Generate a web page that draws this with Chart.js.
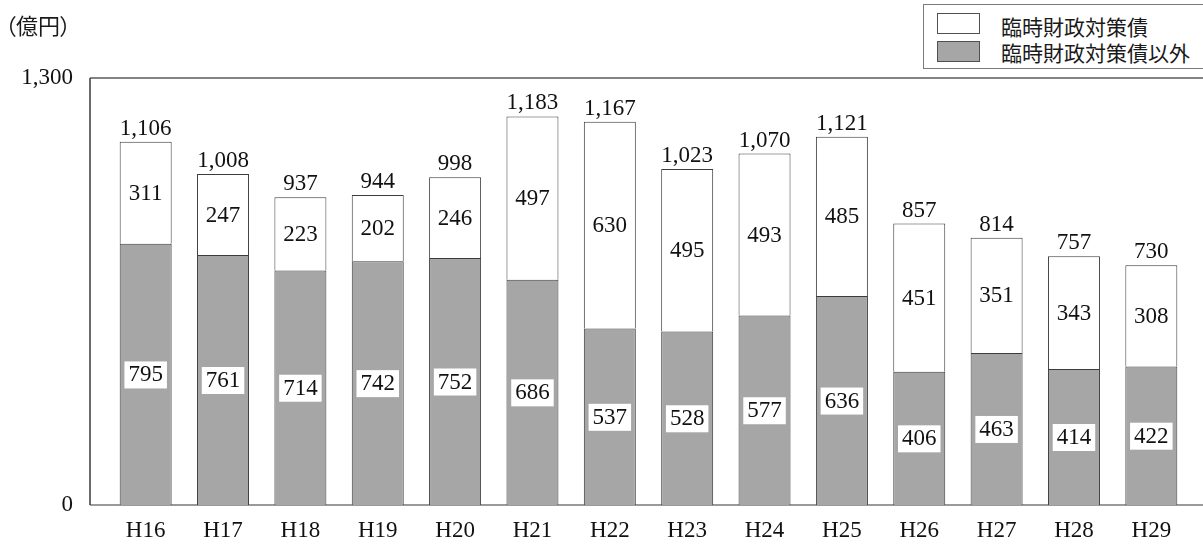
<!DOCTYPE html>
<html>
<head>
<meta charset="utf-8">
<script src="https://cdn.jsdelivr.net/npm/chart.js@4/dist/chart.umd.min.js"></script>
<style>
  html, body { margin: 0; padding: 0; background: #fff; }
  #wrap { position: relative; width: 1203px; height: 547px; overflow: hidden; }
  #chart { position: absolute; left: 0; top: 0; }
  .unit { position: absolute; left: 5px; top: 9px; font: 22px "Noto Sans CJK JP"; font-feature-settings: "palt"; color: #1a1a1a; line-height: 30px; }
  .legend { position: absolute; left: 923px; top: 4px; width: 300px; height: 65px; border: 1px solid #7a7a7a; box-sizing: border-box; background: #fff; }
  .legend .sw { position: absolute; left: 13px; width: 43px; height: 21px; box-sizing: border-box; border: 1px solid #505050; }
  .legend .tx { position: absolute; left: 77px; font: 21px "Noto Sans CJK JP"; color: #1a1a1a; line-height: 26px; white-space: nowrap; }
</style>
</head>
<body>
<div id="wrap">
  <canvas id="chart" width="1203" height="547"></canvas>
  <div class="unit">（億円）</div>
  <div class="legend">
    <div class="sw" style="top:8px;background:#ffffff;"></div>
    <div class="tx" style="top:8px;">臨時財政対策債</div>
    <div class="sw" style="top:36px;background:#a6a6a6;"></div>
    <div class="tx" style="top:34px;">臨時財政対策債以外</div>
  </div>
</div>
<script>
// Fiscal years
const categories = ['H16', 'H17', 'H18', 'H19', 'H20', 'H21', 'H22', 'H23', 'H24', 'H25', 'H26', 'H27', 'H28', 'H29'];
// 臨時財政対策債 (億円)
const rinjiValues = [311, 247, 223, 202, 246, 497, 630, 495, 493, 485, 451, 351, 343, 308];
// 臨時財政対策債以外 (億円)
const otherValues = [795, 761, 714, 742, 752, 686, 537, 528, 577, 636, 406, 463, 414, 422];
// Value axis ticks
const yTicks = [0, 1300];

const SERIF = '"Liberation Serif", "Times New Roman", serif';
const TEXT = '#111111';
const FONT_SIZE = 23;
const fmt = v => Number(v).toLocaleString('en-US');

// Plot frame: left edge, top rule and baseline
const framePlugin = {
  id: 'frame',
  beforeDatasetsDraw(chart) {
    const ctx = chart.ctx;
    const y = chart.scales.y;
    const top = y.getPixelForValue(1300);
    const bottom = y.getPixelForValue(0);
    const left = 90;
    const right = chart.width;
    ctx.save();
    ctx.lineWidth = 2;
    ctx.strokeStyle = '#9a9a9a';
    ctx.beginPath();
    ctx.moveTo(left, bottom);
    ctx.lineTo(right, bottom);
    ctx.stroke();
    ctx.strokeStyle = '#5a5a5a';
    ctx.lineWidth = 1.5;
    ctx.beginPath();
    ctx.moveTo(left, top);
    ctx.lineTo(right, top);
    ctx.stroke();
    ctx.strokeStyle = '#3a3a3a';
    ctx.lineWidth = 1.5;
    ctx.beginPath();
    ctx.moveTo(left, top);
    ctx.lineTo(left, bottom);
    ctx.stroke();
    ctx.restore();
  }
};

// Segment values and totals
const valueLabels = {
  id: 'valueLabels',
  afterDatasetsDraw(chart) {
    const ctx = chart.ctx;
    const yScale = chart.scales.y;
    const lower = chart.getDatasetMeta(0).data;
    const upper = chart.getDatasetMeta(1).data;
    ctx.save();
    ctx.font = FONT_SIZE + 'px ' + SERIF;
    ctx.textAlign = 'center';
    ctx.fillStyle = TEXT;
    categories.forEach((c, i) => {
      // lower (grey) segment value on a white plate
      const b0 = lower[i];
      const cy0 = (b0.y + b0.base) / 2;
      const t0 = fmt(otherValues[i]);
      const w0 = ctx.measureText(t0).width + 8;
      ctx.fillStyle = '#ffffff';
      ctx.fillRect(b0.x - w0 / 2, cy0 - 13, w0, 27);
      ctx.fillStyle = TEXT;
      ctx.textBaseline = 'middle';
      ctx.fillText(t0, b0.x, cy0 + 1);
      // upper (white) segment value
      const b1 = upper[i];
      const cy1 = (b1.y + b1.base) / 2;
      ctx.fillText(fmt(rinjiValues[i]), b1.x, cy1 + 1);
      // total above the stack
      const total = rinjiValues[i] + otherValues[i];
      ctx.textBaseline = 'alphabetic';
      ctx.fillText(fmt(total), b1.x, yScale.getPixelForValue(total) - 7);
    });
    ctx.restore();
  }
};

new Chart(document.getElementById('chart'), {
  type: 'bar',
  data: {
    labels: categories,
    datasets: [
      {
        label: '臨時財政対策債以外',
        data: otherValues,
        backgroundColor: '#a6a6a6',
        borderColor: '#3c3c3c',
        borderWidth: 1,
        barPercentage: 0.672,
        categoryPercentage: 1
      },
      {
        label: '臨時財政対策債',
        data: rinjiValues,
        backgroundColor: '#ffffff',
        borderColor: '#3c3c3c',
        borderWidth: 1,
        barPercentage: 0.672,
        categoryPercentage: 1
      }
    ]
  },
  options: {
    responsive: false,
    animation: false,
    devicePixelRatio: 1,
    layout: { padding: { left: 0, right: 13, top: 78, bottom: 0 } },
    plugins: { legend: { display: false }, tooltip: { enabled: false } },
    scales: {
      x: {
        stacked: true,
        offset: true,
        grid: { display: false, drawTicks: false, tickLength: 0 },
        border: { display: false },
        ticks: { font: { family: SERIF, size: FONT_SIZE }, color: TEXT, padding: 12, maxRotation: 0, autoSkip: false },
        afterFit(s) { s.height = 42; }
      },
      y: {
        stacked: true,
        min: 0,
        max: 1300,
        grid: { display: false, drawTicks: false, tickLength: 0 },
        border: { display: false },
        afterBuildTicks(s) { s.ticks = yTicks.map(v => ({ value: v })); },
        ticks: { font: { family: SERIF, size: FONT_SIZE }, color: TEXT, padding: 34, callback: v => fmt(v) },
        afterFit(s) { s.width = 107; s.paddingTop = 0; s.paddingBottom = 0; }
      }
    }
  },
  plugins: [framePlugin, valueLabels]
});
</script>
</body>
</html>
